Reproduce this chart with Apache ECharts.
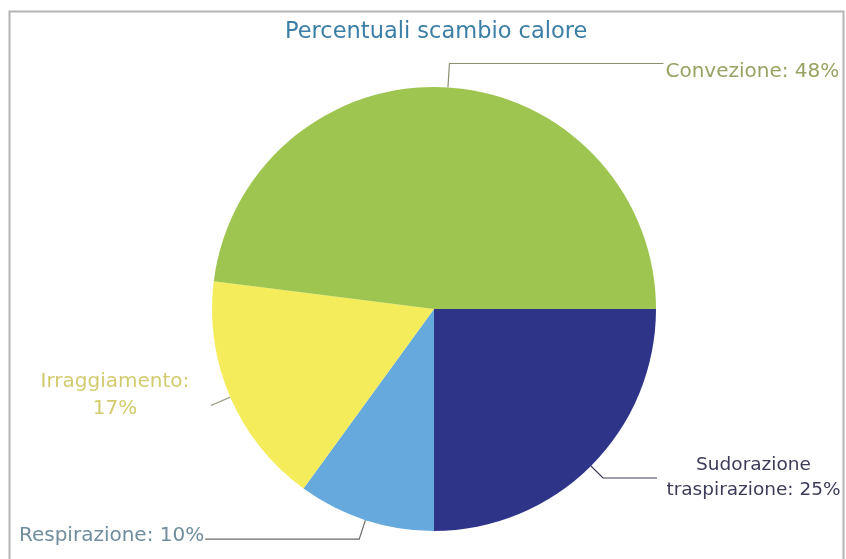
<!DOCTYPE html>
<html>
<head>
<meta charset="utf-8">
<script src="https://cdn.jsdelivr.net/npm/echarts@6/dist/echarts.min.js"></script>
<style>
  html, body { margin: 0; padding: 0; background: #ffffff; }
  #chart { width: 846px; height: 559px; }
</style>
</head>
<body>
<div id="chart"></div>
<script>
// Heat exchange shares (percent)
const categories = ['Sudorazione traspirazione', 'Respirazione', 'Irraggiamento', 'Convezione'];
const values = [25, 10, 17, 48];
const sliceColors = ['#2e3589', '#65a9dd', '#f4ec5a', '#9dc54f'];
const labelColors = ['#3c3c5a', '#6f8d9e', '#d2cb6e', '#98a262'];
const lineColors = ['#3c3c5a', '#6a6a6a', '#a0a08a', '#8c9070'];

const FONT = "'DejaVu Sans', Verdana, sans-serif";

// per-slice label lines and text formats
const labelSetup = [
  { length: 17, length2: 54, dist: 9, text: '{c|Sudorazione}\n{c|traspirazione: 25%}', width: 175, size: 18.5, lh: 25, pad: [0, 0, 0, 0] },
  { length: 20, length2: 154, dist: 1, text: '{c|Respirazione: 10%}', width: 0, size: 20, lh: 24, pad: [0, 0, 7, 0] },
  { length: 20, length2: 1, dist: 16, text: '{c|Irraggiamento:}\n{c|17%}', width: 160, size: 20, lh: 27, pad: [0, 0, 19, 0] },
  { length: 24, length2: 214, dist: 2, text: '{c|Convezione: 48%}', width: 0, size: 20, lh: 24, pad: [17, 0, 0, 0] }
];

const data = categories.map((name, i) => {
  const s = labelSetup[i];
  const rich = { c: { fontFamily: FONT, fontSize: s.size, color: labelColors[i], lineHeight: s.lh, align: 'center' } };
  if (s.width) rich.c.width = s.width;
  return {
    name: name,
    value: values[i],
    itemStyle: { color: sliceColors[i] },
    label: {
      formatter: s.text,
      distanceToLabelLine: s.dist,
      padding: s.pad,
      fontFamily: FONT,
      rich: rich
    },
    labelLine: {
      length: s.length,
      length2: s.length2,
      lineStyle: { color: lineColors[i], width: 1.2 }
    }
  };
});

const chart = echarts.init(document.getElementById('chart'), null, { renderer: 'canvas' });
chart.setOption({
  backgroundColor: '#ffffff',
  animation: false,
  textStyle: { fontFamily: FONT },
  title: {
    text: 'Percentuali scambio calore',
    left: 280,
    top: 16,
    textStyle: { fontFamily: FONT, fontSize: 22.5, fontWeight: 'normal', color: '#3b7ea6' }
  },
  graphic: [{
    type: 'rect',
    shape: { x: 9.5, y: 11.5, width: 834, height: 560 },
    style: { fill: 'none', stroke: '#b4b4b4', lineWidth: 2 },
    silent: true
  }],
  series: [{
    type: 'pie',
    center: [434, 309],
    radius: 222,
    startAngle: 0,
    clockwise: true,
    avoidLabelOverlap: false,
    label: { show: true, position: 'outside' },
    labelLine: { show: true, smooth: false },
    itemStyle: { borderWidth: 0 },
    emphasis: { disabled: true },
    data: data
  }]
});
</script>
</body>
</html>
